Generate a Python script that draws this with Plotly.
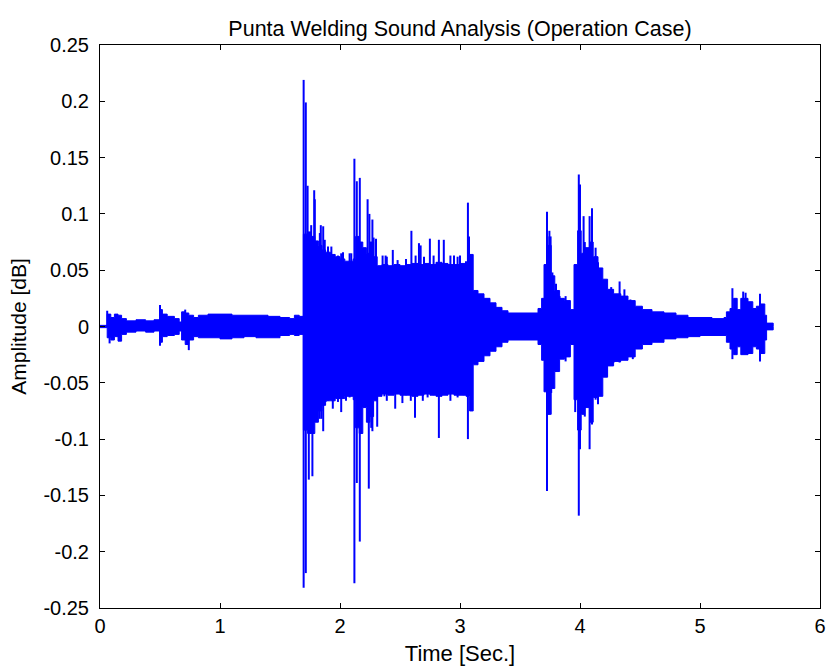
import plotly.graph_objects as go

# Envelope of the waveform (time [s], upper amplitude, lower amplitude)
env_t = [0.00, 0.06, 0.09, 0.12, 0.15, 0.18, 0.22, 0.30, 0.38, 0.45, 0.50, 0.52, 0.56, 0.62, 0.66,
         0.68, 0.71, 0.74, 0.78, 0.82, 0.90, 1.00, 1.10, 1.20, 1.30, 1.40, 1.50, 1.58, 1.62, 1.66,
         1.695, 1.73, 1.76, 1.79, 1.82, 1.85, 1.88, 1.92, 1.96, 2.00, 2.04, 2.08, 2.11, 2.13, 2.16,
         2.19, 2.22, 2.25, 2.28, 2.31, 2.35, 2.40, 2.45, 2.50, 2.55, 2.60, 2.65, 2.70, 2.75, 2.80,
         2.85, 2.90, 2.95, 3.00, 3.05, 3.08, 3.11, 3.15, 3.20, 3.25, 3.30, 3.35, 3.40, 3.50, 3.60,
         3.65, 3.68, 3.70, 3.73, 3.76, 3.79, 3.83, 3.87, 3.92, 3.95, 3.98, 4.01, 4.04, 4.08, 4.11,
         4.15, 4.19, 4.23, 4.28, 4.34, 4.40, 4.46, 4.52, 4.60, 4.70, 4.80, 4.90, 5.00, 5.10, 5.20,
         5.22, 5.25, 5.28, 5.31, 5.34, 5.40, 5.44, 5.47, 5.50, 5.54, 5.555, 5.61]
env_top = [0.001, 0.011, 0.008, 0.011, 0.010, 0.007, 0.005, 0.006, 0.005, 0.006, 0.015, 0.011, 0.009, 0.007, 0.004,
           0.013, 0.012, 0.010, 0.008, 0.010, 0.011, 0.011, 0.010, 0.010, 0.010, 0.009, 0.008, 0.007, 0.010, 0.009,
           0.082, 0.084, 0.080, 0.076, 0.072, 0.068, 0.066, 0.064, 0.062, 0.060, 0.058, 0.058, 0.060, 0.080, 0.075,
           0.070, 0.065, 0.075, 0.062, 0.054, 0.055, 0.054, 0.055, 0.054, 0.055, 0.056, 0.055, 0.056, 0.055, 0.057,
           0.056, 0.055, 0.055, 0.056, 0.056, 0.064, 0.032, 0.029, 0.025, 0.021, 0.017, 0.014, 0.012, 0.012, 0.012,
           0.016, 0.025, 0.055, 0.072, 0.045, 0.032, 0.025, 0.023, 0.015, 0.055, 0.085, 0.065, 0.070, 0.075, 0.062,
           0.052, 0.042, 0.033, 0.029, 0.027, 0.023, 0.018, 0.015, 0.013, 0.012, 0.010, 0.008, 0.008, 0.007, 0.008,
           0.013, 0.016, 0.025, 0.015, 0.025, 0.022, 0.016, 0.018, 0.020, 0.010, 0.003, 0.000]
env_bot = [-0.001, -0.010, -0.012, -0.009, -0.013, -0.007, -0.005, -0.004, -0.005, -0.004, -0.014, -0.009, -0.008, -0.007, -0.004,
           -0.012, -0.016, -0.012, -0.009, -0.010, -0.010, -0.011, -0.010, -0.009, -0.010, -0.010, -0.008, -0.007, -0.008, -0.007,
           -0.092, -0.095, -0.095, -0.085, -0.075, -0.070, -0.066, -0.066, -0.064, -0.064, -0.062, -0.062, -0.065, -0.090, -0.095,
           -0.072, -0.085, -0.080, -0.066, -0.062, -0.060, -0.061, -0.060, -0.061, -0.061, -0.062, -0.061, -0.060, -0.061, -0.062,
           -0.061, -0.060, -0.061, -0.061, -0.062, -0.075, -0.034, -0.031, -0.026, -0.022, -0.018, -0.014, -0.012, -0.012, -0.012,
           -0.016, -0.030, -0.058, -0.078, -0.055, -0.040, -0.029, -0.027, -0.016, -0.065, -0.092, -0.078, -0.072, -0.085, -0.063,
           -0.062, -0.045, -0.035, -0.031, -0.030, -0.027, -0.020, -0.016, -0.014, -0.011, -0.010, -0.009, -0.008, -0.008, -0.008,
           -0.014, -0.020, -0.025, -0.018, -0.025, -0.024, -0.018, -0.020, -0.024, -0.012, -0.003, 0.000]

# Spikes rising above / dropping below the envelope (time [s], amplitude)
spike_t = [0.06, 0.50, 0.71,
           1.697, 1.715, 1.73, 1.76, 1.785, 1.79, 1.832, 1.84, 1.86, 1.873, 1.90, 1.928, 1.983, 2.01, 2.025,
           2.08, 2.094, 2.12, 2.14, 2.165, 2.23, 2.245, 2.27, 2.28, 2.30, 2.355, 2.38, 2.39, 2.44, 2.48, 2.55,
           2.595, 2.63, 2.658, 2.672, 2.70, 2.749, 2.78, 2.824, 2.865, 2.92, 2.95, 2.98, 3.00, 3.05, 3.066, 3.075,
           3.725, 3.73, 3.745, 3.755, 3.77, 3.80, 3.83, 3.88,
           3.99, 4.00, 4.03, 4.04, 4.08, 4.10, 4.13, 4.15, 4.17, 4.20, 4.26, 4.33, 4.37, 4.42,
           5.27, 5.36, 5.38, 5.50,
           0.08, 0.50, 0.74,
           1.697, 1.715, 1.74, 1.77, 1.82, 1.83, 1.845, 1.86, 1.88, 1.90, 1.94, 1.983, 2.01, 2.05, 2.08,
           2.12, 2.14, 2.165, 2.24, 2.26, 2.27, 2.31, 2.37, 2.39, 2.46, 2.52, 2.55, 2.59, 2.625, 2.69, 2.73,
           2.78, 2.824, 2.92, 2.98, 3.03, 3.066,
           3.72, 3.725, 3.74, 3.76, 3.80, 3.88,
           3.96, 3.99, 4.00, 4.01, 4.04, 4.08, 4.10, 4.13, 4.15, 4.17, 4.22, 4.28, 4.33, 4.38, 4.44,
           5.27, 5.50]
spike_v = [0.014, 0.019, 0.015,
           0.219, 0.199, 0.125, 0.090, 0.121, 0.113, 0.083, 0.090, 0.089, 0.077, 0.071, 0.071, 0.063, 0.065, 0.066,
           0.065, 0.065, 0.149, 0.129, 0.132, 0.113, 0.100, 0.095, 0.079, 0.078, 0.063, 0.063, 0.062, 0.068, 0.059, 0.060,
           0.085, 0.063, 0.074, 0.072, 0.062, 0.078, 0.063, 0.077, 0.077, 0.063, 0.063, 0.062, 0.063, 0.058, 0.110, 0.080,
           0.102, 0.080, 0.085, 0.080, 0.048, 0.038, 0.027, 0.027,
           0.135, 0.126, 0.098, 0.075, 0.098, 0.105, 0.070, 0.057, 0.050, 0.040, 0.035, 0.040, 0.033, 0.024,
           0.034, 0.031, 0.030, 0.029,
           -0.015, -0.017, -0.021,
           -0.232, -0.219, -0.136, -0.133, -0.067, -0.082, -0.082, -0.093, -0.067, -0.066, -0.073, -0.067, -0.076, -0.066, -0.063,
           -0.228, -0.139, -0.191, -0.144, -0.090, -0.093, -0.089, -0.062, -0.066, -0.073, -0.068, -0.061, -0.066, -0.081, -0.066, -0.063,
           -0.061, -0.099, -0.066, -0.063, -0.061, -0.100,
           -0.056, -0.146, -0.078, -0.059, -0.040, -0.031,
           -0.076, -0.168, -0.109, -0.074, -0.080, -0.109, -0.087, -0.065, -0.069, -0.053, -0.044, -0.032, -0.032, -0.029, -0.029,
           -0.029, -0.031]

x_ticks = [0, 1, 2, 3, 4, 5, 6]
y_ticks = [0.25, 0.2, 0.15, 0.1, 0.05, 0, -0.05, -0.1, -0.15, -0.2, -0.25]
y_tick_text = ["0.25", "0.2", "0.15", "0.1", "0.05", "0", "-0.05", "-0.1", "-0.15", "-0.2", "-0.25"]

BLUE = "#0000FF"
FONT = "Liberation Sans, Arial, sans-serif"

fig = go.Figure()
fig.add_trace(go.Scatter(x=env_t, y=env_top, mode="lines", line=dict(color=BLUE, width=1, shape="hv"),
                         hoverinfo="skip", showlegend=False))
fig.add_trace(go.Scatter(x=env_t, y=env_bot, mode="lines", line=dict(color=BLUE, width=1, shape="hv"),
                         fill="tonexty", fillcolor=BLUE, hoverinfo="skip", showlegend=False))

sx, sy = [], []
for t, v in zip(spike_t, spike_v):
    sx += [t, t, None]
    sy += [0, v, None]
fig.add_trace(go.Scatter(x=sx, y=sy, mode="lines", line=dict(color=BLUE, width=2),
                         hoverinfo="skip", showlegend=False))

axis_common = dict(showline=True, linecolor="black", linewidth=1, mirror="ticks", ticks="inside",
                   ticklen=5, tickcolor="black", showgrid=False, zeroline=False,
                   tickfont=dict(family=FONT, size=20, color="black"))
fig.update_xaxes(range=[0, 6], tickvals=x_ticks, ticktext=[str(v) for v in x_ticks],
                 title=dict(text="Time [Sec.]", font=dict(family=FONT, size=22, color="black"), standoff=9),
                 **axis_common)
fig.update_yaxes(range=[-0.25, 0.25], tickvals=y_ticks, ticktext=y_tick_text, ticklabelstandoff=6,
                 title=dict(text="Amplitude [dB]", font=dict(family=FONT, size=21, color="black"), standoff=11),
                 **axis_common)
fig.update_layout(
    width=833, height=668,
    margin=dict(l=100, r=7, t=45, b=59),
    paper_bgcolor="white", plot_bgcolor="white",
    title=dict(text="Punta Welding Sound Analysis (Operation Case)", x=0.5, xanchor="center",
               xref="paper", y=1, yref="paper", yanchor="bottom", pad=dict(b=9),
               font=dict(family=FONT, size=21.5, color="black")),
)
fig.write_html("out.html")
